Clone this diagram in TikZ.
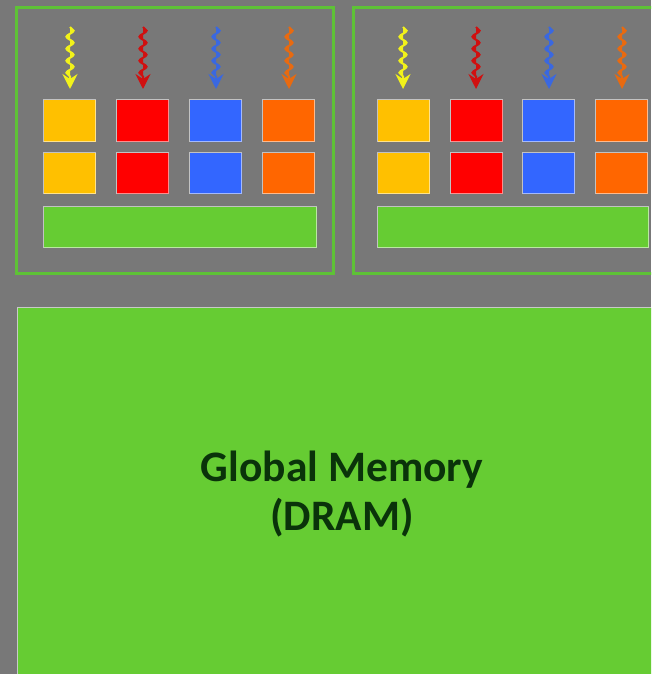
\documentclass[tikz,border=0pt]{standalone}
\usepackage{fontspec}
\setmainfont{Carlito}
\usetikzlibrary{decorations.pathmorphing,arrows.meta}
\definecolor{bg}{HTML}{787878}
\definecolor{gr}{HTML}{66CC33}
\definecolor{grline}{HTML}{5EC236}
\definecolor{cy}{HTML}{FFC000}
\definecolor{cr}{HTML}{FF0000}
\definecolor{cb}{HTML}{3366FF}
\definecolor{co}{HTML}{FF6600}
\definecolor{ay}{HTML}{F2F21A}
\definecolor{ar}{HTML}{D01010}
\definecolor{ab}{HTML}{3A68E0}
\definecolor{ao}{HTML}{E86A10}
\definecolor{txt}{HTML}{0A330A}
\tikzset{
  smbox/.style={draw=grline, line width=3pt},
  cell/.style={draw=white, draw opacity=0.55, line width=1.3pt, minimum width=52pt, minimum height=42pt, inner sep=0pt, anchor=north west},
  barbox/.style={draw=white, draw opacity=0.55, line width=1.3pt, fill=gr, inner sep=0pt, anchor=north west, minimum height=41pt},
  wig/.style={line width=2pt, decorate, decoration={snake, amplitude=3.6pt, segment length=12pt, post length=11pt}},
}
\begin{document}
\begin{tikzpicture}[x=1pt,y=-1pt]
\useasboundingbox (0,0) rectangle (651,674);
\clip (0,0) rectangle (651,674);
\fill[bg] (0,0) rectangle (651,674);
% SM boxes
\draw[smbox] (16,8) rectangle (333,273);
\draw[smbox] (353,8) rectangle (670,273);
% cells box 1
\foreach \c/\x/\k in {cy/43/1, cr/116/2, cb/189/3, co/262/4}{
  \node[cell, fill=\c] (ta\k) at (\x,99) {};
  \node[cell, fill=\c, minimum height=41pt] (ba\k) at (\x,152) {};
}
\node[barbox, minimum width=273pt] (bara) at (43,206) {};
% cells box 2
\foreach \c/\x/\k in {cy/377/1, cr/450/2, cb/522/3, co/595/4}{
  \node[cell, fill=\c] (tb\k) at (\x,99) {};
  \node[cell, fill=\c, minimum height=41pt] (bb\k) at (\x,152) {};
}
\node[barbox, minimum width=271pt] (barb) at (377,206) {};
% wiggly arrows
\foreach \x/\c/\k in {70/ay/1, 143/ar/2, 216/ab/3, 289/ao/4, 403/ay/5, 476/ar/6, 549/ab/7, 622/ao/8}{
  \coordinate (s\k) at (\x,27);
  \coordinate (e\k) at (\x,89);
  \draw[wig, draw=\c, -{Stealth[length=15pt,width=15pt,inset=5pt]}, fill=\c] (s\k) -- (e\k);
}
% global memory
\node[draw=white, draw opacity=0.6, line width=1.3pt, fill=gr, anchor=north west, minimum width=660pt, minimum height=380pt, inner sep=0pt] (gm) at (17,307) {};
\node[text=txt, font=\bfseries\fontsize{43.5}{49}\selectfont, align=center] (gmt) at (342,494) {Global Memory\\(DRAM)};
\end{tikzpicture}
\end{document}
